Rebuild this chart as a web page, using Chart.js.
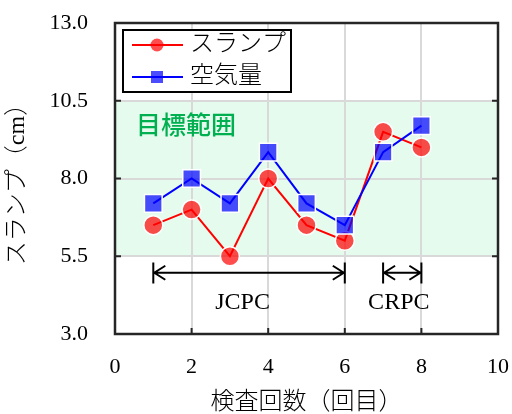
<!DOCTYPE html>
<html>
<head>
<meta charset="utf-8">
<script src="https://cdn.jsdelivr.net/npm/chart.js@4/dist/chart.umd.min.js"></script>
<style>
  html, body { margin: 0; padding: 0; background: #fff; }
  #wrap { width: 512px; height: 414px; }
</style>
</head>
<body>
<div id="wrap"><canvas id="c" width="512" height="414"></canvas></div>
<script>
// Inspection results per round
const rounds = [1, 2, 3, 4, 5, 6, 7, 8];
const slump = [6.5, 7.0, 5.5, 8.0, 6.5, 6.0, 9.5, 9.0];
const airContent = [7.2, 8.0, 7.2, 8.85, 7.2, 6.5, 8.85, 9.7];
const seriesNames = ['スランプ', '空気量'];

// Axis ticks
const xTickValues = [0, 2, 4, 6, 8, 10];
const yTickValues = [3.0, 5.5, 8.0, 10.5, 13.0];

// Target band and construction periods
const targetRange = [5.5, 10.5];
const targetLabel = '目標範囲';
const periodNames = ['JCPC', 'CRPC'];
const periodStart = [1, 7];
const periodEnd = [6, 8];
const periodLabelX = [3.33, 7.41];

const SERIF = '"Liberation Serif", "Noto Sans CJK JP", serif';
const RED = '#ff0000';
const BLUE = '#0000ff';
const RED_FILL = 'rgba(255, 0, 0, 0.7)';
const BLUE_FILL = 'rgba(0, 0, 255, 0.7)';

const toPoints = (ys) => rounds.map((x, i) => ({ x, y: ys[i] }));

// Band, frame, inside ticks, period arrows and legend
const decorations = {
  id: 'decorations',
  beforeDraw(chart) {
    const { ctx, chartArea: a, scales: { x, y } } = chart;
    ctx.save();
    ctx.fillStyle = '#e5fbee';
    const yTop = y.getPixelForValue(targetRange[1]);
    const yBot = y.getPixelForValue(targetRange[0]);
    ctx.fillRect(a.left, yTop, a.right - a.left, yBot - yTop);
    ctx.restore();
  },
  beforeDatasetsDraw(chart) {
    const { ctx, chartArea: a, scales: { x, y } } = chart;
    ctx.save();
    // target label
    ctx.fillStyle = '#00b050';
    ctx.font = '500 25px "Noto Sans CJK JP", sans-serif';
    ctx.textAlign = 'left';
    ctx.textBaseline = 'middle';
    ctx.fillText(targetLabel, x.getPixelForValue(0.55), y.getPixelForValue(9.75));

    // frame
    ctx.strokeStyle = '#262626';
    ctx.lineWidth = 2.5;
    ctx.strokeRect(a.left, a.top, a.right - a.left, a.bottom - a.top);

    // inside tick marks
    ctx.lineWidth = 2;
    const tl = 6;
    yTickValues.forEach(v => {
      const py = y.getPixelForValue(v);
      ctx.beginPath();
      ctx.moveTo(a.left, py); ctx.lineTo(a.left + tl, py);
      ctx.moveTo(a.right, py); ctx.lineTo(a.right - tl, py);
      ctx.stroke();
    });
    xTickValues.forEach(v => {
      const px = x.getPixelForValue(v);
      ctx.beginPath();
      ctx.moveTo(px, a.bottom); ctx.lineTo(px, a.bottom - tl);
      ctx.stroke();
    });

    // period arrows
    ctx.strokeStyle = '#000';
    ctx.fillStyle = '#000';
    ctx.lineWidth = 2;
    const ay = y.getPixelForValue(4.97);
    const barTop = y.getPixelForValue(5.3);
    const barBot = y.getPixelForValue(4.62);
    const head = 12, half = 7;
    periodNames.forEach((name, i) => {
      const x0 = x.getPixelForValue(periodStart[i]);
      const x1 = x.getPixelForValue(periodEnd[i]);
      ctx.beginPath();
      ctx.moveTo(x0, barTop); ctx.lineTo(x0, barBot);
      ctx.moveTo(x1, barTop); ctx.lineTo(x1, barBot);
      ctx.moveTo(x0, ay); ctx.lineTo(x1, ay);
      ctx.moveTo(x0 + head, ay - half); ctx.lineTo(x0 + 1, ay); ctx.lineTo(x0 + head, ay + half);
      ctx.moveTo(x1 - head, ay - half); ctx.lineTo(x1 - 1, ay); ctx.lineTo(x1 - head, ay + half);
      ctx.stroke();
      ctx.font = '24px ' + SERIF;
      ctx.textAlign = 'center';
      ctx.textBaseline = 'middle';
      ctx.fillText(name, x.getPixelForValue(periodLabelX[i]), y.getPixelForValue(4.0));
    });
    ctx.restore();
  },
  afterDatasetsDraw(chart) {
    const { ctx, chartArea: a } = chart;
    ctx.save();
    const bx = a.left + 8, by = a.top + 7, bw = 168, bh = 62;
    ctx.fillStyle = '#fff';
    ctx.fillRect(bx, by, bw, bh);
    ctx.strokeStyle = '#000';
    ctx.lineWidth = 2;
    ctx.strokeRect(bx, by, bw, bh);
    const rows = [by + 15, by + 47];
    const styles = [
      { line: RED, fill: RED_FILL, shape: 'circle' },
      { line: BLUE, fill: BLUE_FILL, shape: 'rect' }
    ];
    seriesNames.forEach((name, i) => {
      const ry = rows[i];
      const s = styles[i];
      ctx.strokeStyle = s.line;
      ctx.lineWidth = 2;
      ctx.beginPath();
      ctx.moveTo(bx + 9, ry); ctx.lineTo(bx + 60, ry);
      ctx.stroke();
      ctx.fillStyle = s.fill;
      ctx.beginPath();
      if (s.shape === 'circle') ctx.arc(bx + 34, ry, 6.5, 0, Math.PI * 2);
      else ctx.rect(bx + 28, ry - 6, 12, 12);
      ctx.fill();
      ctx.fillStyle = '#000';
      ctx.font = '300 24px ' + SERIF;
      ctx.textAlign = 'left';
      ctx.textBaseline = 'middle';
      ctx.fillText(name, bx + 67, ry);
    });
    ctx.restore();
  }
};

new Chart(document.getElementById('c'), {
  type: 'line',
  data: {
    datasets: [
      {
        label: seriesNames[0],
        data: toPoints(slump),
        borderColor: RED,
        borderWidth: 2,
        backgroundColor: RED_FILL,
        pointStyle: 'circle',
        pointRadius: 9.5,
        pointBorderColor: '#fff',
        pointBorderWidth: 1.5,
        order: 2
      },
      {
        label: seriesNames[1],
        data: toPoints(airContent),
        borderColor: BLUE,
        borderWidth: 2,
        backgroundColor: BLUE_FILL,
        pointStyle: 'rect',
        pointRadius: 12.5,
        pointBorderColor: '#fff',
        pointBorderWidth: 1.5,
        order: 1
      }
    ]
  },
  options: {
    responsive: false,
    animation: false,
    layout: { padding: { top: 23, right: 14, left: 0, bottom: 0 } },
    plugins: { legend: { display: false }, tooltip: { enabled: false } },
    scales: {
      x: {
        type: 'linear',
        min: 0, max: 10,
        afterBuildTicks: s => { s.ticks = xTickValues.map(v => ({ value: v })); },
        afterFit: s => { s.height = 80; },
        grid: { color: '#d9d9d9', lineWidth: 2, drawTicks: true, tickLength: 20, tickColor: 'rgba(0,0,0,0)' },
        border: { display: false },
        ticks: { color: '#000', padding: 0, font: { family: SERIF, size: 22 } },
        title: {
          display: true, text: '検査回数（回目）', color: '#000',
          font: { family: SERIF, size: 24, weight: '300', lineHeight: 0.9 },
          padding: { top: 0, bottom: 0 }
        }
      },
      y: {
        min: 3, max: 13,
        afterBuildTicks: s => { s.ticks = yTickValues.map(v => ({ value: v })); },
        afterFit: s => { s.width = 115; },
        grid: { color: '#d9d9d9', lineWidth: 2, drawTicks: true, tickLength: 27, tickColor: 'rgba(0,0,0,0)' },
        border: { display: false },
        ticks: {
          color: '#000', padding: 0, font: { family: SERIF, size: 22 },
          callback: v => Number(v).toFixed(1)
        },
        title: {
          display: true, text: 'スランプ（cm）', color: '#000',
          font: { family: SERIF, size: 24, weight: '300', lineHeight: 1.2 },
          padding: { top: 3, bottom: 0 }
        }
      }
    }
  },
  plugins: [decorations]
});
</script>
</body>
</html>
